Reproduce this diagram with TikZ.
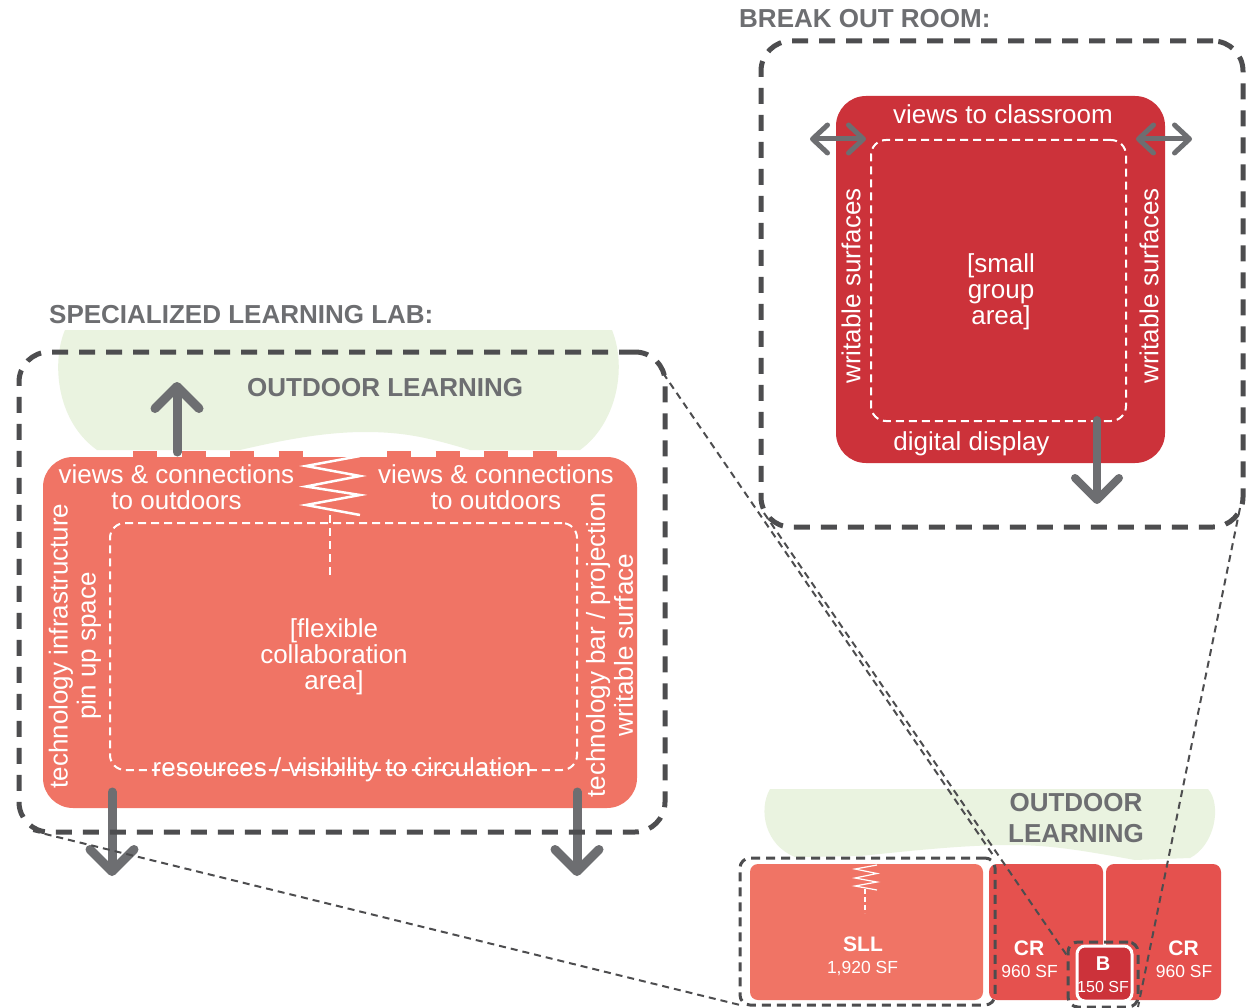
\documentclass[tikz,border=0pt]{standalone}
\usepackage{fontspec}
\setmainfont{Liberation Sans}
\usetikzlibrary{arrows.meta,calc}

\definecolor{sllfill}{HTML}{F07465}
\definecolor{crfill}{HTML}{E5514E}
\definecolor{brfill}{HTML}{CC323A}
\definecolor{outdoor}{HTML}{EAF3E0}
\definecolor{arrowgray}{HTML}{6D6E71}
\definecolor{dashgray}{HTML}{4D4D4F}
\definecolor{headgray}{HTML}{6D6E71}

\begin{document}
\begin{tikzpicture}[x=1pt,y=-1pt,
  room/.style={fill=#1, draw=none, inner sep=0pt, outer sep=0pt, rounded corners=30pt},
  zone/.style={draw=dashgray, line width=5pt, dash pattern=on 16pt off 11pt,
               rounded corners=30pt, inner sep=0pt, outer sep=0pt},
  area/.style={draw=white, line width=2pt, dash pattern=on 8pt off 5pt,
               rounded corners=15pt, inner sep=0pt, outer sep=0pt},
  planbox/.style={fill=#1, draw=none, inner sep=0pt, outer sep=0pt, rounded corners=8pt},
  planzone/.style={draw=dashgray, line width=3pt, dash pattern=on 9pt off 6pt,
                   rounded corners=10pt, inner sep=0pt, outer sep=0pt},
  callout/.style={draw=dashgray, line width=2pt, dash pattern=on 7pt off 5pt},
  flow/.style={draw=arrowgray, line width=9pt, line cap=round,
               -{Straight Barb[round, length=22pt, width=44pt]}},
  swing/.style={draw=arrowgray, line width=5pt, line cap=round,
               {Straight Barb[round, length=15pt, width=28pt]}-{Straight Barb[round, length=15pt, width=28pt]}},
  lbl/.style={text=white, font=\fontsize{26}{26}\selectfont, align=center, inner sep=0pt},
  head/.style={text=headgray, font=\bfseries\fontsize{26}{31}\selectfont, inner sep=0pt, align=center},
  planname/.style={text=white, font=\bfseries\fontsize{21}{21}\selectfont, inner sep=0pt},
  planarea/.style={text=white, font=\fontsize{17.5}{17.5}\selectfont, inner sep=0pt},
]
\useasboundingbox (0,0) rectangle (1247,1008);
\fill[white] (0,0) rectangle (1247,1008);

% ---------------- outdoor learning areas ----------------
\fill[outdoor] (65,330) -- (612,330) .. controls (628,370) and (615,425) .. (580,450)
  -- (470,450) .. controls (430,438) and (405,432) .. (365,432)
  .. controls (320,432) and (275,442) .. (240,450) -- (97,450)
  .. controls (55,420) and (52,360) .. (65,330) -- cycle;
\fill[outdoor] (770,789) -- (1208,789) .. controls (1222,805) and (1215,845) .. (1190,858)
  -- (1135,860) .. controls (1080,850) and (1050,845) .. (1010,845)
  .. controls (960,845) and (900,852) .. (860,856) -- (795,857)
  .. controls (765,845) and (758,810) .. (770,789) -- cycle;

% ---------------- specialized learning lab ----------------
\node[head, anchor=base west] (sllhead) at (49,323) {SPECIALIZED LEARNING LAB:};
\node[head, anchor=base west] (outhead) at (247,396) {OUTDOOR LEARNING};

% window openings toward the outdoor area
\draw[sllfill, line width=6pt, dash pattern=on 24pt off 24.5pt] (133,454) -- (303,454);
\draw[sllfill, line width=6pt, dash pattern=on 24pt off 24.5pt] (387,454) -- (557,454);

\node[room=sllfill, minimum width=594pt, minimum height=351pt] (sllroom) at (340,632.5) {};
\node[area, minimum width=467pt, minimum height=247pt] (sllarea) at (343.5,646.5) {};

% operable partition
\draw[white, line width=2.5pt] (360,456) -- (306,466) -- (360,476) -- (306,486.5)
  -- (360,495) -- (306,505) -- (360,515);
\draw[white, line width=2pt, dash pattern=on 8pt off 5pt] (330,515) -- (330,577);

\node[lbl] (viewsL) at (176.5,487) {views \& connections\\to outdoors};
\node[lbl] (viewsR) at (496,487) {views \& connections\\to outdoors};
\node[lbl] (flex) at (334,657) {[flexible\\collaboration\\area]};
\node[lbl, anchor=base] (circ) at (342,776.5) {resources / visibility to circulation};
\node[lbl, rotate=90, font=\fontsize{26}{28}\selectfont] (techL) at (75,646)
  {technology infrastructure\\pin up space};
\node[lbl, rotate=90, font=\fontsize{26}{28}\selectfont] (techR) at (609.5,645)
  {technology bar / projection\\writable surface};

\coordinate (upS) at (177,452);
\coordinate (upE) at (177,382);
\coordinate (dnLS) at (112,792);
\coordinate (dnLE) at (112,876);
\coordinate (dnRS) at (577,792);
\coordinate (dnRE) at (577,876);
\draw[flow] (upS) -- (upE);
\draw[flow] (dnLS) -- (dnLE);
\draw[flow] (dnRS) -- (dnRE);

\node[zone, minimum width=646pt, minimum height=480pt] (sllzone) at (342,592) {};

% ---------------- break out room ----------------
\node[head, anchor=base west] (brhead) at (739,28) {BREAK OUT ROOM:};
\node[room=brfill, minimum width=329pt, minimum height=367pt] (brroom) at (1000.5,279.5) {};
\node[area, minimum width=255pt, minimum height=281pt] (brarea) at (998.5,280.5) {};

\node[lbl, anchor=base] (brviews) at (1003,124) {views to classroom};
\node[lbl, anchor=base] (brdisp) at (971.5,450) {digital display};
\node[lbl] (brsmall) at (1001,292) {[small\\group\\area]};
\node[lbl, rotate=90] (brwL) at (851,286) {writable surfaces};
\node[lbl, rotate=90] (brwR) at (1149,286) {writable surfaces};

\coordinate (swLa) at (810,139);
\coordinate (swLb) at (866,139);
\coordinate (swRa) at (1136,139);
\coordinate (swRb) at (1192,139);
\draw[swing] (swLa) -- (swLb);
\draw[swing] (swRa) -- (swRb);
\coordinate (brdnS) at (1097,420);
\coordinate (brdnE) at (1097,504);
\draw[flow, line width=8pt] (brdnS) -- (brdnE);

\node[zone, minimum width=482pt, minimum height=486pt] (brzone) at (1002,284) {};

% ---------------- key plan ----------------
\node[head] (planout) at (1076,818) {OUTDOOR\\LEARNING};

\node[planbox=sllfill, minimum width=233pt, minimum height=136pt] (planSLL) at (866.5,932) {};
\node[planbox=crfill, minimum width=114pt, minimum height=136pt] (planCRa) at (1046,932) {};
\node[planbox=crfill, minimum width=115pt, minimum height=136pt] (planCRb) at (1163.5,932) {};
\node[planbox=brfill, draw=white, line width=3pt, minimum width=55pt, minimum height=55pt]
  (planB) at (1104.5,973.5) {};

\draw[white, line width=1.2pt] (877,865) -- (855,869) -- (877,873.5) -- (855,878)
  -- (877,882) -- (855,886) -- (877,890);
\draw[white, line width=1.2pt, dash pattern=on 5pt off 3pt] (865,889) -- (865,913);

\node[planname] (tSLL) at (863,944.5) {SLL};
\node[planarea] (aSLL) at (862.5,968) {1,920 SF};
\node[planname] (tCRa) at (1029,948.5) {CR};
\node[planarea] (aCRa) at (1029.5,971.5) {960 SF};
\node[planname] (tCRb) at (1183.5,948.5) {CR};
\node[planarea] (aCRb) at (1184,971.5) {960 SF};
\node[planname, font=\bfseries\fontsize{20}{20}\selectfont] (tB) at (1103,963.5) {B};
\node[planarea, font=\fontsize{16}{16}\selectfont] (aB) at (1103,986.5) {150 SF};

\node[planzone, minimum width=255pt, minimum height=147pt] (planSLLzone) at (867.5,931.5) {};
\node[planzone, minimum width=70pt, minimum height=65pt] (planBzone) at (1103,974.5) {};

% ---------------- callouts to the key plan ----------------
\coordinate (c1) at (663,373);
\coordinate (c2) at (764,513);
\coordinate (c2e) at (1068,957);
\coordinate (c3) at (1240,508);
\coordinate (c4) at (33,831);
\draw[callout] (c1) -- (planSLLzone.north east);
\draw[callout] (c4) -- (planSLLzone.south west);
\draw[callout] (c2) -- (c2e);
\draw[callout] (c3) -- (planBzone.south east);

\end{tikzpicture}
\end{document}
